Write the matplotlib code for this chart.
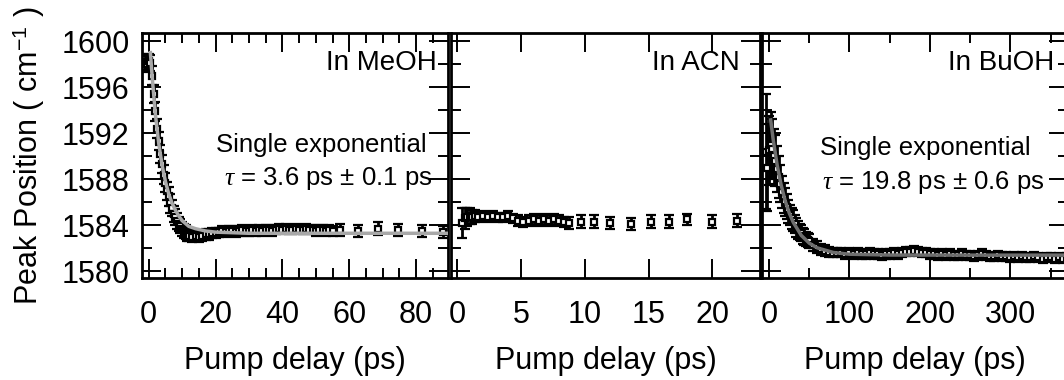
import matplotlib
matplotlib.use("Agg")
import matplotlib.pyplot as plt
from matplotlib.ticker import MultipleLocator, NullLocator

plt.rcParams['font.family'] = ['Liberation Sans', 'DejaVu Sans']
plt.rcParams['mathtext.fontset'] = 'custom'
plt.rcParams['mathtext.rm'] = 'Liberation Sans'
plt.rcParams['mathtext.it'] = 'Liberation Serif:italic'

# ---- MeOH ----
t_meoh = [-1, -0.5, 0, 0.5, 1, 1.5, 2, 2.5, 3, 3.5, 4, 4.5, 5, 5.5, 6, 6.5, 7, 7.5,
          8, 8.5, 9, 9.5, 10, 10.5, 11, 11.5, 12, 13, 14, 15, 16, 17, 18, 19, 20,
          21, 22, 23, 24, 25, 26, 27, 28, 29, 30, 31, 32, 33, 34, 35, 36, 37, 38,
          39, 40, 41, 42, 43, 44, 45, 46, 47, 48, 49, 50, 51, 52, 53, 54, 55,
          57.3, 62.7, 68.7, 74.6, 81.8, 88.0]
v_meoh = [1598.2, 1598.0, 1598.3, 1598.1, 1597.0, 1595.4, 1593.9, 1592.4, 1591.3,
          1590.2, 1589.3, 1588.4, 1587.7, 1587.0, 1586.5, 1585.9, 1585.5, 1585.0,
          1584.7, 1584.4, 1584.1, 1583.9, 1583.7, 1583.5, 1583.4, 1583.2, 1583.1,
          1583.0, 1583.1, 1583.0, 1583.1, 1583.2, 1583.2, 1583.3, 1583.3,
          1583.4, 1583.5, 1583.4, 1583.5, 1583.5, 1583.4, 1583.5, 1583.6, 1583.5,
          1583.5, 1583.6, 1583.5, 1583.6, 1583.5, 1583.6, 1583.6, 1583.5, 1583.6,
          1583.7, 1583.6, 1583.7, 1583.6, 1583.6, 1583.7, 1583.6, 1583.6, 1583.7,
          1583.6, 1583.6, 1583.5, 1583.6, 1583.6, 1583.5, 1583.6, 1583.5,
          1583.6, 1583.5, 1583.7, 1583.6, 1583.5, 1583.4]
e_meoh = [0.7, 0.7, 0.6, 0.7, 0.8, 0.8, 0.8, 0.8, 0.8, 0.8, 0.8, 0.8, 0.8, 0.8,
          0.8, 0.8, 0.7, 0.7, 0.7, 0.7, 0.6, 0.6, 0.6, 0.6, 0.6, 0.6, 0.5, 0.5,
          0.5, 0.5, 0.5, 0.45, 0.45, 0.45, 0.45,
          0.4, 0.4, 0.4, 0.4, 0.4, 0.4, 0.4, 0.4, 0.4, 0.4, 0.4, 0.4, 0.4, 0.4,
          0.4, 0.4, 0.4, 0.4, 0.4, 0.4, 0.4, 0.4, 0.4, 0.4, 0.4, 0.4, 0.4,
          0.4, 0.4, 0.4, 0.4, 0.4, 0.4, 0.4, 0.4,
          0.55, 0.55, 0.55, 0.55, 0.55, 0.55]
fit_t_meoh = [0.5, 1, 2, 3, 4, 5, 6, 7, 8, 9, 10, 12, 14, 17, 20, 30, 60, 90]
fit_v_meoh = [1599.0, 1597.0, 1593.6, 1591.1, 1589.2, 1587.8, 1586.7, 1585.9,
              1585.3, 1584.8, 1584.4, 1583.9, 1583.7, 1583.5, 1583.4, 1583.3,
              1583.3, 1583.3]

# ---- ACN ----
t_acn = [0.4, 0.6, 0.8, 1.0, 1.2, 1.4, 1.6, 2.0, 2.4, 2.8, 3.2, 3.6, 4.0, 4.4,
         4.8, 5.2, 5.6, 6.0, 6.4, 6.8, 7.2, 7.6, 8.0, 8.4, 8.8, 9.7, 10.7, 12.0,
         13.6, 15.2, 16.6, 18.0, 20.0, 21.9]
v_acn = [1584.2, 1584.6, 1584.7, 1584.8, 1584.7, 1584.8, 1584.7, 1584.8, 1584.7,
         1584.8, 1584.7, 1584.7, 1584.8, 1584.6, 1584.4, 1584.3, 1584.4, 1584.5,
         1584.4, 1584.5, 1584.4, 1584.5, 1584.4, 1584.3, 1584.2, 1584.3, 1584.3,
         1584.2, 1584.1, 1584.3, 1584.3, 1584.5, 1584.3, 1584.4]
e_acn = [1.3, 0.9, 0.8, 0.7, 0.6, 0.5, 0.45, 0.4, 0.4, 0.4, 0.4, 0.4, 0.4, 0.4,
         0.45, 0.45, 0.45, 0.45, 0.45, 0.45, 0.45, 0.45, 0.45, 0.45, 0.5, 0.55,
         0.55, 0.55, 0.55, 0.55, 0.55, 0.5, 0.55, 0.55]

# ---- BuOH ----
t_buoh = [-4, -2, 0, 2, 4, 6, 8, 10, 12, 14, 16, 18, 20, 22, 24, 26, 28, 30, 32,
          34, 36, 38, 40, 42, 44, 46, 48, 50, 55, 60, 65, 70, 75, 80,
          85, 90, 95, 100, 105, 110, 115, 120, 125, 130, 135, 140, 145, 150,
          155, 160, 165, 170, 175, 180, 185, 190, 195, 200, 205, 210, 215, 220,
          225, 230, 235, 240, 245, 250, 255, 260, 265, 270, 275, 280, 285, 290,
          295, 300, 305, 310, 315, 320, 325, 330, 335, 340, 345, 350, 355, 360,
          365, 370]
v_buoh = [1590.4, 1589.0, 1590.5, 1591.0, 1590.6, 1590.0, 1589.6, 1588.9, 1588.2,
          1587.6, 1586.9, 1586.4, 1586.0, 1585.6, 1585.2, 1584.9, 1584.6, 1584.4,
          1584.1, 1583.8, 1583.6, 1583.4, 1583.3, 1583.1, 1583.0, 1582.8, 1582.7,
          1582.6, 1582.3, 1582.1, 1581.9, 1581.8, 1581.7, 1581.6,
          1581.6, 1581.6, 1581.5, 1581.6, 1581.5, 1581.6, 1581.5, 1581.5, 1581.6,
          1581.5, 1581.5, 1581.4, 1581.5, 1581.5, 1581.6, 1581.5, 1581.6, 1581.7,
          1581.7, 1581.8, 1581.7, 1581.6, 1581.6, 1581.5, 1581.5, 1581.4, 1581.5,
          1581.4, 1581.5, 1581.4, 1581.4, 1581.5, 1581.4, 1581.4, 1581.3, 1581.4,
          1581.5, 1581.4, 1581.3, 1581.3, 1581.4, 1581.3, 1581.3, 1581.2, 1581.3,
          1581.2, 1581.3, 1581.2, 1581.2, 1581.3, 1581.2, 1581.1, 1581.2, 1581.2,
          1581.1, 1581.2, 1581.1, 1581.2]
e_buoh = [5.0, 3.8, 3.0, 2.8, 2.6, 2.4, 2.2, 2.0, 1.8, 1.6, 1.4, 1.3, 1.2, 1.1,
          1.0, 0.9, 0.9, 0.9, 0.8, 0.8, 0.8, 0.7, 0.7, 0.7, 0.7, 0.6, 0.6, 0.6,
          0.5, 0.5, 0.45, 0.45, 0.45, 0.4,
          0.4, 0.4, 0.4, 0.4, 0.4, 0.4, 0.4, 0.4, 0.4, 0.4, 0.4, 0.4, 0.4, 0.4,
          0.4, 0.4, 0.4, 0.4, 0.4, 0.4, 0.4, 0.4, 0.4, 0.4, 0.4, 0.4, 0.4, 0.4,
          0.4, 0.4, 0.4, 0.4, 0.4, 0.4, 0.4, 0.4, 0.4, 0.4, 0.4, 0.4, 0.4, 0.4,
          0.4, 0.4, 0.4, 0.4, 0.4, 0.4, 0.4, 0.4, 0.4, 0.4, 0.4, 0.4, 0.4, 0.4,
          0.4, 0.4]
fit_t_buoh = [2, 5, 10, 15, 20, 25, 30, 40, 50, 60, 80, 100, 150, 250, 375]
fit_v_buoh = [1593.15, 1591.5, 1589.25, 1587.5, 1586.13, 1585.08, 1584.26,
              1583.12, 1582.44, 1582.03, 1581.63, 1581.48, 1581.41, 1581.4, 1581.4]

fig = plt.figure(figsize=(10.64, 3.8), dpi=100)
bottom, top = 0.268, 0.913
ax1 = fig.add_axes([0.1335, bottom, 0.2875, top - bottom])
ax2 = fig.add_axes([0.424, bottom, 0.2905, top - bottom])
ax3 = fig.add_axes([0.716, bottom, 0.288, top - bottom])

panels = [
    (ax1, t_meoh, v_meoh, e_meoh, (-2, 89.5), 20, 5),
    (ax2, t_acn, v_acn, e_acn, (-0.47, 23.75), 5, None),
    (ax3, t_buoh, v_buoh, e_buoh, (-9, 372), 100, 50),
]
for ax, t, v, e, xl, major, minor in panels:
    ax.errorbar(t, v, yerr=e, fmt='s', ms=4, mfc='white', mec='black', mew=1.6,
                ecolor='black', elinewidth=2, capsize=3.8, capthick=2.4)
    ax.set_xlim(*xl)
    ax.set_ylim(1579.4, 1600.7)
    ax.xaxis.set_major_locator(MultipleLocator(major))
    if minor:
        ax.xaxis.set_minor_locator(MultipleLocator(minor))
    else:
        ax.xaxis.set_minor_locator(NullLocator())
    ax.yaxis.set_major_locator(MultipleLocator(4))
    ax.yaxis.set_minor_locator(MultipleLocator(2))
    ax.tick_params(which='both', direction='in', top=True, right=True, width=1.4)
    ax.tick_params(which='major', length=14)
    ax.tick_params(which='minor', length=7)
    ax.tick_params(axis='x', labelsize=22, pad=16)
    ax.tick_params(axis='y', labelsize=22, pad=9)
    for s in ax.spines.values():
        s.set_linewidth(2)
    ax.set_xlabel('Pump delay (ps)', fontsize=22, labelpad=11)

ax1.plot(fit_t_meoh, fit_v_meoh, color='#a8a8a8', lw=2.5, zorder=5)
ax3.plot(fit_t_buoh, fit_v_buoh, color='#6e6e6e', lw=2.5, zorder=5)

ax2.tick_params(axis='y', labelleft=False)
ax3.tick_params(axis='y', labelleft=False)
ax1.set_ylabel('Peak Position ( cm$^{-1}$ )', fontsize=22, labelpad=10)

ax1.text(0.964, 0.878, 'In MeOH', transform=ax1.transAxes, ha='right',
         va='center', fontsize=20)
ax1.text(0.931, 0.543, 'Single exponential', transform=ax1.transAxes,
         ha='right', va='center', fontsize=18.5)
ax1.text(0.948, 0.408, r'$\tau$ = 3.6 ps ± 0.1 ps', transform=ax1.transAxes,
         ha='right', va='center', fontsize=18.5)
ax2.text(0.935, 0.878, 'In ACN', transform=ax2.transAxes, ha='right',
         va='center', fontsize=20)
ax3.text(0.954, 0.878, 'In BuOH', transform=ax3.transAxes, ha='right',
         va='center', fontsize=20)
ax3.text(0.19, 0.53, 'Single exponential', transform=ax3.transAxes,
         ha='left', va='center', fontsize=18.5)
ax3.text(0.197, 0.39, r'$\tau$ = 19.8 ps ± 0.6 ps', transform=ax3.transAxes,
         ha='left', va='center', fontsize=18.5)

fig.savefig('out.png', dpi=100)
